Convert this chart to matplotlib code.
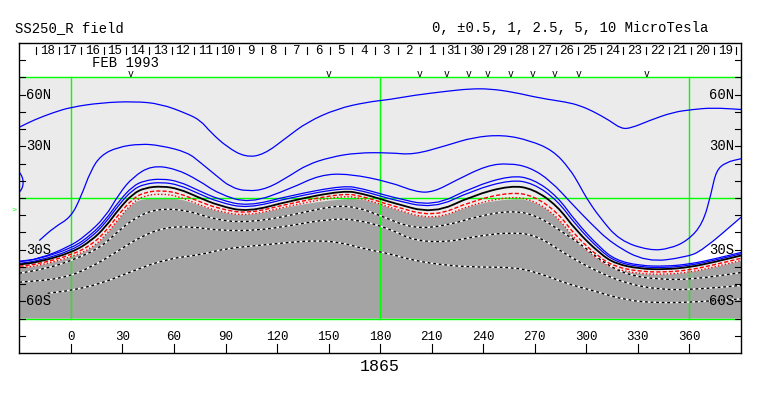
import numpy as np
import matplotlib
matplotlib.use("Agg")
import matplotlib.pyplot as plt
from matplotlib.path import Path
from matplotlib.patches import PathPatch

plt.rcParams['font.family'] = ['Liberation Mono', 'DejaVu Sans Mono']

# contour traces, longitude / latitude in degrees
b1_lon = [-30, -21.3, -9.7, 0, 17.4, 36.8, 52.2, 67.8, 75.5, 81.3, 91.0, 101.6, 112.2, 125.8,
          137.4, 154.8, 172.3, 185.8, 199.3, 218.7, 232.2, 243.9, 257.4, 272.9, 288.4, 296.1,
          303.8, 313.5, 320.3, 326.1, 336.7, 350.3, 361.9, 373.5, 390]
b1_lat = [41.1, 45.4, 49.8, 52.7, 55.3, 56.1, 54.7, 48.9, 45.0, 38.2, 29.5, 23.7, 25.1, 35.3,
          44.0, 51.8, 55.7, 57.2, 59.6, 62.0, 63.4, 63.4, 61.5, 58.0, 55.7, 53.7,
          50.4, 45.0, 40.2, 40.6, 45.0, 49.8, 51.4, 52.4, 51.4]

b2_lon = [-18.4, -9.7, 0, 5.8, 11.6, 17.4, 27.1, 40.6, 52.2, 67.8, 75.5, 84.5, 92.9, 102.6,
          114.2, 127.7, 137.4, 151.0, 166.5, 185.8, 199.3, 218.7, 234.2, 251.6, 267.1, 280.6,
          290.3, 296.1, 300.0, 307.7, 319.3, 336.7, 348.4, 359.0, 367.7, 372.6, 375.5, 381.3, 390]
b2_lat = [-24.7, -17.0, -11.2, 0.5, 16.0, 24.7, 29.5, 31.5, 30.5, 26.6, 20.5, 13.1, 6.3, 3.8,
          5.3, 13.1, 19.3, 23.7, 26.3, 26.3, 25.1, 30.5, 35.3, 36.7, 33.4, 27.6,
          17.0, 7.3, 0.0, -11.2, -24.7, -30.5, -29.5, -24.7, -15.0, 2.4, 16.0, 20.8, 22.8]

b3_lon = [-30, -19, -1, 8.5, 20, 28, 36, 47, 61, 74, 86, 104, 128, 145, 162, 186, 201, 211,
          224, 242, 255, 267, 279, 292, 302, 315, 335, 358, 367.5, 390]
b3_lat = [-36.7, -35.5, -28.3, -22.0, -11.2, 2.4, 12.1, 18.9, 17.0, 10.5, 2.4, -3.2, 5.5, 13.5,
          14.1, 9.2, 3.4, 3.4, 10.2, 18.9, 20.2, 17.9, 10.2, -3.8, -14.2, -26.6, -37.3, -34.4,
          -30.5, -11.2]

# small closed contour touching the left edge
arc_lon = [-30, -28.3, -27.6, -28.3, -30]
arc_lat = [15.0, 12.5, 9.0, 5.5, 3.4]

# neutral line and the contours that hug it
nl_lon = [-30, -19, 1, 12, 20, 28, 36, 43, 53, 63, 74, 86, 103, 128, 159, 170, 180, 186, 211,
          234, 256, 269, 283, 294, 308, 317, 331, 346, 360, 374, 390]
nl_lat = [-38.6, -37.3, -31.5, -24.7, -17.0, -6.3, 2.4, 5.9, 6.9, 5.3, 0.5, -4.4, -8.2, -1.5,
          4.4, 2.4, -0.5, -2.4, -9.2, 1.5, 7.3, 5.3, -4.4, -18.9, -32.4, -38.2, -41.1, -41.5,
          -40.2, -37.3, -33.4]
b4_lat = [-37.0, -35.5, -29.0, -21.2, -13.0, -1.8, 6.9, 10.2, 11.2, 9.6, 4.5, -0.8, -4.9, 1.5,
          7.3, 5.3, 2.5, 0.8, -5.0, 6.5, 13.1, 11.1, 1.1, -13.9, -28.9, -36.0, -39.3, -39.7,
          -38.4, -35.5, -31.6]
b5_lat = [-38.0, -36.5, -30.3, -22.7, -14.7, -3.8, 4.9, 8.2, 9.2, 7.6, 2.7, -2.4, -6.1, 0.3,
          6.0, 4.0, 1.2, -0.6, -6.3, 4.5, 10.6, 8.6, -1.2, -15.9, -30.4, -37.0, -40.1, -40.5,
          -39.2, -36.3, -32.4]
r1_lat = [-39.6, -38.4, -32.9, -27.2, -19.8, -9.3, -0.4, 3.4, 4.4, 2.8, -1.8, -6.2, -9.2, -3.0,
          2.8, 0.8, -2.2, -4.2, -11.2, -1.5, 3.4, 1.4, -8.1, -22.4, -34.9, -40.0, -42.7, -43.1,
          -41.8, -38.9, -35.0]
r2_lat = [-40.5, -39.4, -34.1, -29.2, -22.0, -11.8, -2.6, 1.5, 2.5, 0.9, -3.7, -7.9, -10.5, -4.3,
          1.5, -0.5, -3.5, -5.6, -13.1, -3.5, 0.9, -1.1, -10.6, -24.9, -36.9, -41.4, -44.0, -44.4,
          -43.1, -40.2, -36.3]

# negative contours inside the shaded region
d1_lon = [-30, -14.5, 0.6, 17.4, 27.9, 37.7, 49.4, 66.2, 85.9, 104.5, 127.7, 152.7, 166.6, 180,
          199.2, 218.9, 238.1, 257.3, 271.2, 286.3, 297.9, 311.2, 325.2, 342.6, 361.7, 390]
d1_lat = [-43.7, -41.0, -36.3, -28.8, -18.9, -11.3, -6.4, -6.7, -13.1, -14.1, -10.2, -4.4, -5.3,
          -10.2, -17.9, -16.0, -10.2, -7.3, -10.2, -19.9, -27.6, -38.5, -45.0, -47.3, -47.3, -43.3]
d2_lon = [-30, -5.2, 11.6, 27.9, 40.6, 55.0, 70.3, 85.9, 108.4, 127.7, 151.0, 166.6, 185.8, 199.2,
          218.9, 238.1, 257.3, 271.2, 286.3, 296.1, 307.7, 323.4, 342.6, 361.7, 390]
d2_lat = [-48.9, -46.9, -40.4, -30.5, -22.4, -17.0, -16.6, -18.9, -18.9, -16.0, -12.1, -12.5,
          -17.9, -24.7, -25.7, -21.8, -19.9, -21.8, -31.5, -37.3, -43.3, -49.7, -53.2, -53.2, -50.8]
d3_lon = [-13.5, 0, 17.4, 36.6, 56.1, 75.5, 89, 108.4, 127.7, 143.2, 156.8, 170.3, 185.8, 199.3,
          218.7, 238.1, 257.4, 271, 286.4, 296.1, 303.7, 323.2, 342.5, 361.9, 390]
d3_lat = [-55.3, -53.7, -49.8, -42.1, -35.3, -33.0, -29.5, -27.6, -25.7, -24.7, -25.7, -29.5,
          -32.4, -36.3, -39.2, -40.2, -40.2, -43.1, -48.9, -51.8, -53.7, -59.5, -60.9, -60.5, -58.6]

lat_ticks = [-80, -70, -60, -50, -40, -30, -20, -10, 0, 10, 20, 30, 40, 50, 60, 70, 80]
lat_labels = {60: '60N', 30: '30N', -30: '30S', -60: '60S'}
lon_ticks = [0, 30, 60, 90, 120, 150, 180, 210, 240, 270, 300, 330, 360]

days = [18, 17, 16, 15, 14, 13, 12, 11, 10, 9, 8, 7, 6, 5, 4, 3, 2, 1,
        31, 30, 29, 28, 27, 26, 25, 24, 23, 22, 21, 20, 19]
first_day_lon = -20.3
deg_per_day = 13.15

obs_lon = [34.8, 149.8, 203.2, 218.7, 231.3, 242.5, 255.9, 268.7, 281.6, 295.7, 334.9]
b0_lat = -7.0

rotation = '1865'
month = 'FEB 1993'


def smooth_verts(lon, lat):
    """Quadratic bezier path through the midpoints, traced points as controls."""
    p = np.column_stack([lon, lat])
    verts = [p[0], (p[0] + p[1]) / 2]
    codes = [Path.MOVETO, Path.LINETO]
    for i in range(1, len(p) - 1):
        verts += [p[i], (p[i] + p[i + 1]) / 2]
        codes += [Path.CURVE3, Path.CURVE3]
    verts.append(p[-1])
    codes.append(Path.LINETO)
    return verts, codes


def curve(ax, lon, lat, **kw):
    verts, codes = smooth_verts(lon, lat)
    ax.add_patch(PathPatch(Path(verts, codes), fill=False, capstyle='butt', **kw))


def region(ax, lon, lat, bottom, **kw):
    verts, codes = smooth_verts(lon, lat)
    verts += [(lon[-1], bottom), (lon[0], bottom), verts[0]]
    codes += [Path.LINETO, Path.LINETO, Path.CLOSEPOLY]
    ax.add_patch(PathPatch(Path(verts, codes), lw=0, **kw))


def dotted(ax, lon, lat):
    curve(ax, lon, lat, edgecolor='white', lw=1.0, zorder=3)
    curve(ax, lon, lat, edgecolor='black', lw=1.0, linestyle=(0, (2, 2)), zorder=3)


def plot_map():
    fig = plt.figure(figsize=(7.63, 3.96), dpi=100)
    ax = fig.add_axes([0.0253, 0.1086, 0.9459, 0.7828])
    ax.set_xlim(-30, 390)
    ax.set_ylim(-90, 90)
    ax.set_xticks([])
    ax.set_yticks([])
    for s in ax.spines.values():
        s.set_linewidth(1.0)
        s.set_zorder(6)

    # map background and negative polarity shading
    ax.fill_between([-30, 390], -70, 70, color='#ebebeb', lw=0, zorder=0)
    region(ax, nl_lon, np.minimum(r2_lat, 0) - 0.3, -70, facecolor='#a4a4a4', zorder=1)
    w3 = [i for i, v in enumerate(b3_lon) if v >= 358]
    w4 = [i for i, v in enumerate(nl_lon) if v >= 358]
    wx = [b3_lon[i] for i in w3] + [nl_lon[i] for i in w4][::-1]
    wy = [b3_lat[i] for i in w3] + [b4_lat[i] for i in w4][::-1]
    ax.fill(wx, wy, color='white', lw=0, zorder=1)

    # green grid
    g = '#00ff00'
    for lat in (-70, 0, 70):
        ax.plot([-30, 390], [lat, lat], color=g, lw=1.0, zorder=2)
    for lon in (0, 180, 360):
        ax.plot([lon, lon], [-70, 70], color=g, lw=1.0, zorder=2)

    # contours
    for lon, lat in [(b1_lon, b1_lat), (b2_lon, b2_lat), (b3_lon, b3_lat), (arc_lon, arc_lat),
                     (nl_lon, b4_lat), (nl_lon, b5_lat)]:
        curve(ax, lon, lat, edgecolor='#0000ff', lw=0.9, zorder=3)
    curve(ax, nl_lon, nl_lat, edgecolor='black', lw=1.3, zorder=4)
    curve(ax, nl_lon, r1_lat, edgecolor='red', lw=1.0, linestyle=(0, (3, 1.5)), zorder=3)
    curve(ax, nl_lon, r2_lat, edgecolor='red', lw=1.0, linestyle=(0, (1, 1.5)), zorder=3)
    dotted(ax, d1_lon, d1_lat)
    dotted(ax, d2_lon, d2_lat)
    dotted(ax, d3_lon, d3_lat)

    # latitude ticks on both sides
    for lat in lat_ticks:
        ax.plot([-30, -26.5], [lat, lat], color='black', lw=0.8, zorder=5)
        ax.plot([386.5, 390], [lat, lat], color='black', lw=0.8, zorder=5)
        if lat in lat_labels:
            ax.text(-26, lat, lat_labels[lat], fontsize=10, ha='left', va='center', zorder=5)
            ax.text(386, lat, lat_labels[lat], fontsize=10, ha='right', va='center', zorder=5)

    # longitude ticks
    for lon in lon_ticks:
        ax.plot([lon, lon], [-90, -84.5], color='black', lw=0.8)
        ax.text(lon, -80.6, str(lon), fontsize=9, ha='center', va='center')

    # day strip
    for k in range(len(days) + 1):
        x = first_day_lon + k * deg_per_day
        ax.plot([x, x], [83.8, 87.6], color='black', lw=0.8)
    for k, d in enumerate(days):
        x = first_day_lon + (k + 0.5) * deg_per_day
        ax.text(x, 85.6, str(d), fontsize=9, ha='center', va='center')
    ax.text(32, 78.3, month, fontsize=10, ha='center', va='center')
    for lon in obs_lon:
        ax.text(lon, 72.0, 'v', fontsize=7, ha='center', va='center')

    ax.text(-33.3, b0_lat, '>', fontsize=6, color=g, ha='center', va='center', clip_on=False)
    ax.text(-32.5, 98.6, 'SS250_R field', fontsize=10, ha='left', va='center', clip_on=False)
    ax.text(210, 98.6, '0, ±0.5, 1, 2.5, 5, 10 MicroTesla', fontsize=10, ha='left',
            va='center', clip_on=False)
    ax.text(180, -97.6, rotation, fontsize=12, ha='center', va='center', clip_on=False)

    fig.savefig('out.png', dpi=100)


def main():
    plot_map()


if __name__ == "__main__":
    main()
